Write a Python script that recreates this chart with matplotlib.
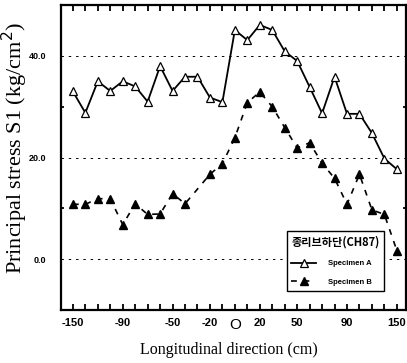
import numpy as np
import matplotlib
matplotlib.use('Agg')
import matplotlib.pyplot as plt

# positions along the girder (cm), drawn evenly spaced like the original
positions = [-150, -135, -120, -105, -90, -80, -70, -60, -50, -40, -30, -20, -10,
             0, 10, 20, 30, 40, 50, 60, 70, 80, 90, 105, 120, 135, 150]
tick_labels = {-150: '-150', -90: '-90', -50: '-50', -20: '-20', 0: 'O',
               20: '20', 50: '50', 90: '90', 150: '150'}

spec_a = [33.0, 28.8, 35.0, 33.1, 35.0, 34.0, 31.0, 38.0, 33.1, 35.9, 35.9, 31.8, 30.9,
          45.1, 43.1, 46.1, 45.1, 40.9, 39.0, 33.9, 28.7, 35.9, 28.6, 28.6, 24.8, 19.8, 17.7]
# specimen B has no reading at -30 cm
spec_b_pos = [p for p in positions if p != -30]
spec_b = [10.8, 10.8, 11.9, 11.9, 6.8, 10.9, 8.8, 8.9, 12.9, 10.9, 16.7, 18.8,
          23.9, 30.8, 32.9, 30.0, 25.9, 21.9, 22.9, 18.9, 15.9, 10.8, 16.7, 9.7, 8.8, 1.7]

idx = {p: i for i, p in enumerate(positions)}
xa = [idx[p] for p in positions]
xb = [idx[p] for p in spec_b_pos]

narrow = ['Liberation Sans', 'DejaVu Sans']

fig = plt.figure(figsize=(4.07, 3.63), dpi=100)
ax = fig.add_axes([0.150, 0.146, 0.848, 0.840])

for yv in [0, 20, 40]:
    ax.axhline(yv, color='black', lw=0.7, ls=(0, (2.5, 5)), zorder=1)

ax.plot(xa, spec_a, color='black', lw=1.3, marker='^', ms=5.5,
        mfc='white', mec='black', mew=0.9, label='Specimen A', zorder=3)
ax.plot(xb, spec_b, color='black', lw=1.2, ls=(0, (3.5, 4)), marker='^', ms=5.5,
        mfc='black', mec='black', label='Specimen B', zorder=3)

ax.set_xlim(-0.95, 26.75)
ax.set_ylim(-10, 50)

ax.set_xticks(range(len(positions)))
ax.set_xticklabels([tick_labels.get(p, '') for p in positions],
                   fontsize=8, fontweight='bold', family=narrow)
ax.tick_params(axis='x', which='major', direction='in', length=4, width=1.3,
               top=True, bottom=True, pad=6)
for lab, p in zip(ax.get_xticklabels(), positions):
    if p == 0:
        lab.set_fontsize(11)
        lab.set_fontweight('normal')

ax.set_yticks([0, 20, 40])
ax.set_yticklabels(['0.0', '20.0', '40.0'], fontsize=6.5, fontweight='bold', family=narrow)
ax.set_yticks([10, 30], minor=True)
ax.tick_params(axis='y', which='major', length=0, pad=10.5)
ax.tick_params(axis='y', which='minor', direction='in', length=2.5, width=1.3,
               left=True, right=True)

for s in ax.spines.values():
    s.set_linewidth(1.6)

ax.set_ylabel('Principal stress S1 (kg/cm$^2$)', family='Liberation Serif',
              fontsize=16)
ax.yaxis.set_label_coords(-0.09, 0.53)
ax.set_xlabel('Longitudinal direction (cm)', family='Liberation Serif',
              fontsize=11.5)
ax.xaxis.set_label_coords(0.485, -0.105)

leg = ax.legend(loc='upper left', bbox_to_anchor=(0.643, 0.272),
                title='종리브하단(CH87)', fancybox=False, edgecolor='black',
                framealpha=1, handlelength=3.2, borderpad=0.6, labelspacing=1.5,
                handletextpad=1.6,
                prop={'size': 5.5, 'weight': 'bold', 'family': narrow})
leg.get_frame().set_linewidth(1.0)
leg.get_title().set_fontsize(8)
leg.get_title().set_fontweight('bold')
leg.get_title().set_family(['Noto Sans CJK KR', 'DejaVu Sans'])
leg._legend_box.align = 'left'

fig.savefig('out.png', dpi=100)
